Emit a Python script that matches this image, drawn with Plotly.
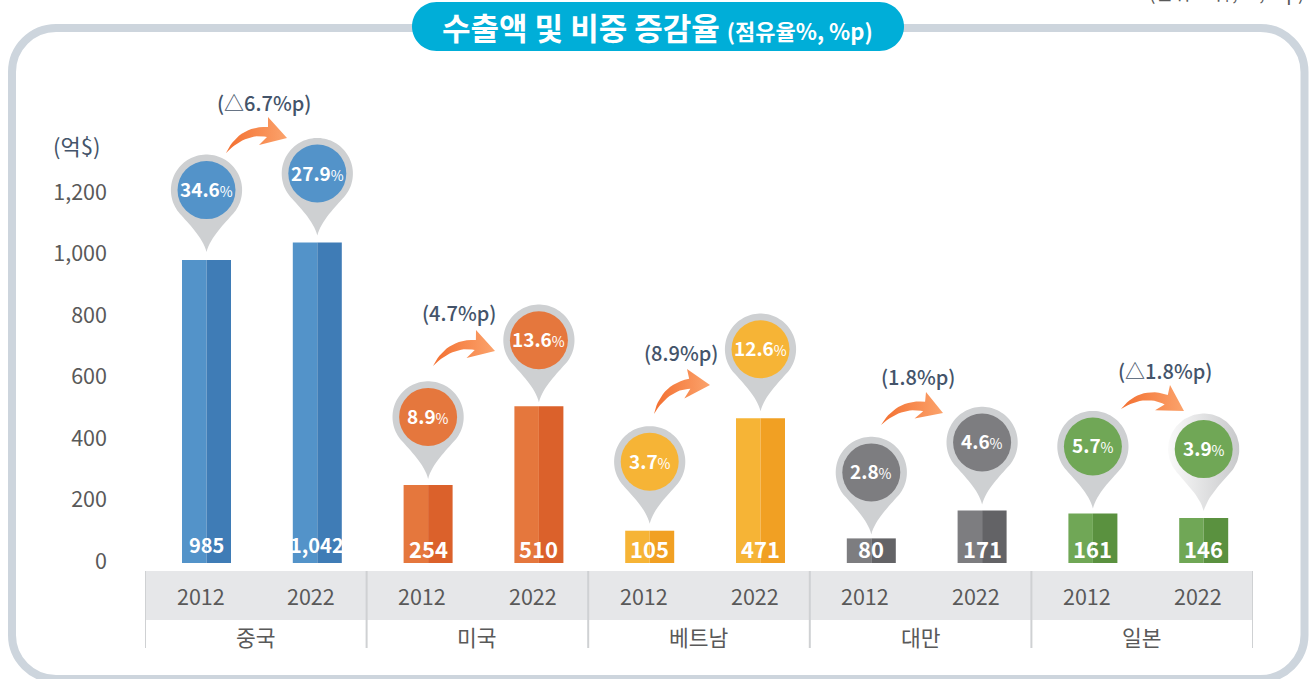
import numpy as np
import plotly.graph_objects as go

# ---------- data ----------
countries = ["중국", "미국", "베트남", "대만", "일본"]
years = ["2012", "2022"]
export_values = [985, 1042, 254, 510, 105, 471, 80, 171, 161, 146]
share_pct = ["34.6", "27.9", "8.9", "13.6", "3.7", "12.6", "2.8", "4.6", "5.7", "3.9"]
share_change = ["(△6.7%p)", "(4.7%p)", "(8.9%p)", "(1.8%p)", "(△1.8%p)"]
y_ticks = [0, 200, 400, 600, 800, 1000, 1200]

# ---------- styles ----------
light = ["#5393c9", "#e5773d", "#f6b436", "#7d7d80", "#70a756"]
dark = ["#3f7cb6", "#db612b", "#f1a023", "#636366", "#5a913f"]
pin_grey = "#ced0d2"
font = "Noto Sans CJK KR"
W, H = 1311, 679
L, R, T, B = 145, 1253, 40, 563          # plot box in pixels
pxu = 0.3075                              # pixels per unit of value
step = (R - L) / 10
bar0 = 206.5                              # pixel of the first bar centre
x_rng = [(L - bar0) / step, (R - bar0) / step]
y_rng = [0, (B - T) / pxu]
pin_lift = [70, 69, 68, 66, 69, 69, 66, 68, 67, 69]
PIN_R, PIN_IN, PIN_TIP = 35.6, 29, 62


def PX(p):
    return (p - L) / (R - L)


def PY(p):
    return 1 - (p - T) / (B - T)


def dx(p):
    return (p - bar0) / step


def dy(p):
    return (B - p) / pxu


def bez(p0, p1, p2, p3, n=16):
    t = np.linspace(0, 1, n)[:, None]
    p0, p1, p2, p3 = map(np.array, (p0, p1, p2, p3))
    return (1 - t) ** 3 * p0 + 3 * (1 - t) ** 2 * t * p1 + 3 * (1 - t) * t ** 2 * p2 + t ** 3 * p3


def pin_outline():
    """Pin outline around its centre, y up, tip below."""
    a = np.radians(np.linspace(-45, 225, 80))
    arc = np.c_[PIN_R * np.cos(a), PIN_R * np.sin(a)]
    right = bez(arc[0], (16.5, -35), (3.5, -48), (0, -PIN_TIP))
    left = right * np.array([-1, 1])
    return np.vstack([arc, left[1:], right[::-1][1:-1]])


def arrow_base():
    a = bez((0, 0), (6, -13), (18, -27), (42, -26))
    b = bez((41, -16), (28, -19), (13, -14), (0, 0))
    head = np.array([(42, -36), (61, -15), (33, -8)])
    return np.vstack([a, head, b])


base_ctrl = np.array([(0, 0), (42, -36), (61, -15)], float)
# tail, head top, head tip of every curved arrow, in page pixels
arrow_pts = [
    [(226, 153), (268, 117), (287, 138)],
    [(433, 366), (476, 330), (495, 351)],
    [(654, 414), (687, 369), (710, 385)],
    [(881, 425), (926, 392), (943, 413)],
    [(1121, 409), (1170, 385), (1184, 411)],
]


def place_arrow(ctrl):
    src = np.c_[base_ctrl, np.ones(3)]
    M = np.linalg.solve(src, np.array(ctrl, float))
    b = arrow_base()
    return np.c_[b, np.ones(len(b))] @ M


fig = go.Figure()
idx = list(range(len(export_values)))
light_c = [light[i // 2] for i in idx]
dark_c = [dark[i // 2] for i in idx]
half = 49 / step / 2
fig.add_bar(x=idx, y=export_values, width=half, offset=-half, marker=dict(color=light_c, line_width=0),
            hoverinfo="skip", showlegend=False)
fig.add_bar(x=idx, y=export_values, width=half, offset=0, marker=dict(color=dark_c, line_width=0),
            hoverinfo="skip", showlegend=False)

# curved gradient arrows
for ctrl in arrow_pts:
    p = place_arrow(ctrl)
    fig.add_scatter(x=dx(p[:, 0]), y=dy(p[:, 1]), mode="lines", line=dict(width=0), fill="toself",
                    fillgradient=dict(type="horizontal", colorscale=[[0, "#f36f30"], [1, "#fba36c"]]),
                    hoverinfo="skip", showlegend=False)

shapes = []
annotations = []

# frame and title pill
fx0, fx1, fy0, fy1, r = 12, 1304.5, 28, 679, 44
k = r * 0.45
frame = (f"M {PX(fx0 + r)} {PY(fy0)} L {PX(fx1 - r)} {PY(fy0)} "
         f"C {PX(fx1 - k)} {PY(fy0)} {PX(fx1)} {PY(fy0 + k)} {PX(fx1)} {PY(fy0 + r)} "
         f"L {PX(fx1)} {PY(fy1 - r)} "
         f"C {PX(fx1)} {PY(fy1 - k)} {PX(fx1 - k)} {PY(fy1)} {PX(fx1 - r)} {PY(fy1)} "
         f"L {PX(fx0 + r)} {PY(fy1)} "
         f"C {PX(fx0 + k)} {PY(fy1)} {PX(fx0)} {PY(fy1 - k)} {PX(fx0)} {PY(fy1 - r)} "
         f"L {PX(fx0)} {PY(fy0 + r)} "
         f"C {PX(fx0)} {PY(fy0 + k)} {PX(fx0 + k)} {PY(fy0)} {PX(fx0 + r)} {PY(fy0)} Z")
shapes.append(dict(type="path", path=frame, xref="paper", yref="paper",
                   line=dict(color="#cdd5dd", width=8), layer="below"))
px0, px1, py0, py1, pr = 412, 904, 2, 51, 24.5
pk = pr * 0.45
pill = (f"M {PX(px0 + pr)} {PY(py0)} L {PX(px1 - pr)} {PY(py0)} "
        f"C {PX(px1 - pk)} {PY(py0)} {PX(px1)} {PY(py0 + pk)} {PX(px1)} {PY(py0 + pr)} "
        f"C {PX(px1)} {PY(py1 - pk)} {PX(px1 - pk)} {PY(py1)} {PX(px1 - pr)} {PY(py1)} "
        f"L {PX(px0 + pr)} {PY(py1)} "
        f"C {PX(px0 + pk)} {PY(py1)} {PX(px0)} {PY(py1 - pk)} {PX(px0)} {PY(py0 + pr)} "
        f"C {PX(px0)} {PY(py0 + pk)} {PX(px0 + pk)} {PY(py0)} {PX(px0 + pr)} {PY(py0)} Z")
shapes.append(dict(type="path", path=pill, xref="paper", yref="paper",
                   fillcolor="#00aed8", line=dict(width=0), layer="below"))

# category band and separators
shapes.append(dict(type="rect", xref="paper", yref="paper", x0=0, x1=1, y0=PY(620), y1=PY(571),
                   fillcolor="#e6e7e9", line_width=0, layer="below"))
for g in range(len(countries) + 1):
    xs = x_rng[0] + 2 * g
    shapes.append(dict(type="line", xref="x", yref="paper", x0=xs, x1=xs, y0=PY(648), y1=PY(571),
                       line=dict(color="#cfd1d3", width=2), layer="below"))

# pins
outline = pin_outline()
for i, v in enumerate(export_values):
    lift = pin_lift[i]
    base = dict(xref="x", yref="y", xsizemode="pixel", ysizemode="pixel", xanchor=i, yanchor=v, layer="above")
    if i == 9:  # the last pin fades from white to grey
        fig.add_scatter(x=i + outline[:, 0] / step, y=v + (lift + outline[:, 1]) / pxu, mode="lines",
                        line=dict(width=0), fill="toself",
                        fillgradient=dict(type="horizontal", colorscale=[[0, "#fafafa"], [1, "#c8c9cb"]]),
                        hoverinfo="skip", showlegend=False)
    else:
        path = "M " + " L ".join(f"{a:.2f} {b + lift:.2f}" for a, b in outline) + " Z"
        shapes.append(dict(type="path", path=path, fillcolor=pin_grey, line_width=0, **base))
    shapes.append(dict(type="circle", x0=-PIN_IN, x1=PIN_IN, y0=lift - PIN_IN, y1=lift + PIN_IN,
                       fillcolor=light[i // 2], line_width=0, **base))
    annotations.append(dict(
        x=i, y=v, xref="x", yref="y", yshift=lift + 1.5, xanchor="center", yanchor="middle", showarrow=False,
        text=f"<b>{share_pct[i]}</b><span style='font-size:14px'>%</span>",
        font=dict(family=font, size=19, color="white")))
    big = v >= 900
    annotations.append(dict(
        x=i, y=0, xref="x", yref="y", yshift=19 if big else 15, xanchor="center", yanchor="middle",
        showarrow=False, text=f"<b>{v:,}</b>", font=dict(family=font, size=20 if big else 22, color="white")))
    annotations.append(dict(
        x=i, xref="x", y=PY(595), yref="paper", xshift=-6, xanchor="center", yanchor="middle", showarrow=False,
        text=years[i % 2], font=dict(family=font, size=21.5, color="#595959")))

for g, name in enumerate(countries):
    annotations.append(dict(
        x=x_rng[0] + 2 * g + 1, xref="x", y=PY(636), yref="paper", xanchor="center", yanchor="middle",
        showarrow=False, text=name, font=dict(family=font, size=21.5, color="#595959")))


def page_text(x, y, text, size, color, anchor="center", weight=400):
    annotations.append(dict(x=PX(x), y=PY(y), xref="paper", yref="paper", xanchor=anchor, yanchor="middle",
                            showarrow=False, text=text, font=dict(family=font, size=size, color=color, weight=weight)))


delta_xy = [(264, 102), (459, 312), (681, 352), (918, 376), (1165, 370)]
for (x, y), t in zip(delta_xy, share_change):
    page_text(x, y, t, 20, "#44546a", weight=500)
page_text(51, 145, "(억$)", 22, "#44546a", anchor="left")
page_text(657, 26, "<b>수출액 및 비중 증감율</b> <span style='font-size:22px'><b>(점유율%, %p)</b></span>", 31, "white")
page_text(1306, -8, "(단위 : 억$, %, %p)", 19, "#595959", anchor="right")

fig.update_layout(
    width=W, height=H, margin=dict(l=L, r=W - R, t=T, b=H - B, autoexpand=False),
    paper_bgcolor="white", plot_bgcolor="rgba(0,0,0,0)", barmode="overlay", showlegend=False,
    shapes=shapes, annotations=annotations, font=dict(family=font),
    xaxis=dict(range=x_rng, visible=False, fixedrange=True),
    yaxis=dict(range=y_rng, tickvals=y_ticks, tickformat=",", showgrid=False, zeroline=False, showline=False,
               ticks="", ticklabelstandoff=37, ticklabelshift=-2, tickfont=dict(family=font, size=21.5, color="#595959"),
               fixedrange=True),
)
fig.write_html("out.html", config=dict(displayModeBar=False),
               post_script="document.body.style.margin='0';document.body.style.overflow='hidden';")
